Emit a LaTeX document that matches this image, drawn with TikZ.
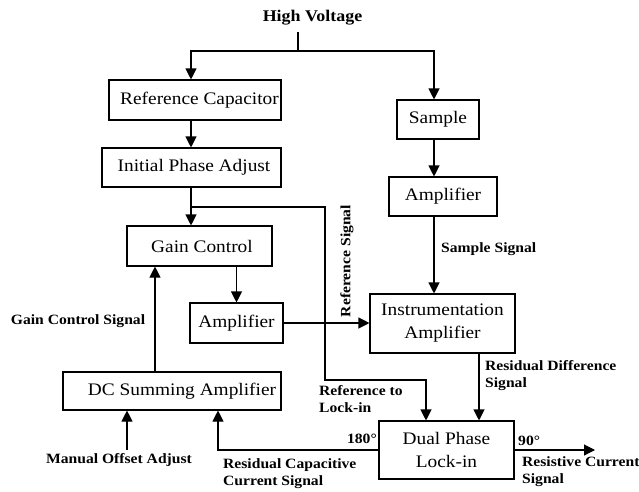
\documentclass[tikz,border=0pt]{standalone}
\usepackage{fontspec}
\setmainfont{Liberation Serif}[FakeStretch=1.1]
\usetikzlibrary{arrows.meta}
\begin{document}
\begin{tikzpicture}[x=1pt,y=-1pt,
  box/.style={draw, line width=1.1pt, inner sep=0pt, font=\fontsize{17.6}{23}\selectfont, align=center},
  lbl/.style={inner sep=0pt, font=\fontsize{14.2}{17}\selectfont\bfseries, align=left},
  wire/.style={line width=1.1pt},
  arr/.style={wire, -{Triangle[length=11pt,width=11pt]}}]
\useasboundingbox (0,0) rectangle (639,491);
% boxes
\node[box, minimum width=172pt, minimum height=40pt] (refcap) at (195,100) {\hspace*{9pt}Reference Capacitor};
\node[box, minimum width=179pt, minimum height=39pt] (ipa) at (191.5,167.5) {\hspace*{5pt}Initial Phase Adjust};
\node[box, minimum width=145pt, minimum height=40pt] (gain) at (199.5,246) {\hspace*{5pt}Gain Control};
\node[box, minimum width=93pt, minimum height=40pt] (amp1) at (236.5,323) {Amplifier};
\node[box, minimum width=218pt, minimum height=38pt] (dcsum) at (172,391) {\hspace*{20pt}DC Summing Amplifier};
\node[box, minimum width=82pt, minimum height=39pt] (sample) at (438,119.5) {Sample};
\node[box, minimum width=108pt, minimum height=39pt] (amp2) at (443,196.5) {Amplifier};
\node[box, minimum width=145pt, minimum height=59pt] (instr) at (442.5,323.5) {Instrumentation\\Amplifier};
\node[box, minimum width=135pt, minimum height=58pt] (dual) at (446.5,450) {Dual Phase\\Lock-in};
% labels
\node[lbl, font=\fontsize{16.3}{19}\selectfont\bfseries] (hv) at (312.5,18) {High Voltage};
\node[lbl] (gcs) at (78,321) {Gain Control Signal};
\node[lbl] (moa) at (119,460) {Manual Offset Adjust};
\node[lbl, anchor=west] (ss) at (441,249) {Sample Signal};
\node[lbl, rotate=90] (rs) at (347,261) {Reference Signal};
\node[lbl, anchor=west] (rtl) at (319,399) {Reference to\\Lock-in};
\node[lbl, anchor=west] (rds) at (485,375.5) {Residual Difference\\Signal};
\node[lbl, anchor=east] (d180) at (377,439) {180°};
\node[lbl, anchor=west] (rccs) at (223,473.5) {Residual Capacitive\\Current Signal};
\node[lbl, anchor=west] (d90) at (518,441) {90°};
\node[lbl, anchor=west] (rcs) at (522,471.5) {Resistive Current\\Signal};
% coordinates
\coordinate (hvs) at (298,32);
\coordinate (hvj) at (298,51);
\coordinate (xl) at (191,0);
\coordinate (xr) at (434,0);
\coordinate (br) at (191,207);
\coordinate (rc) at (325,380);
\coordinate (rd) at (426,0);
\coordinate (xg) at (155,0);
\coordinate (mo) at (127,450);
\coordinate (rcap) at (218,0);
\coordinate (xd) at (479,0);
\coordinate (out) at (595,450);
% connectors
\draw[wire] (hvs) -- (hvj);
\draw[arr] (hvj) -| (refcap.north -| xl);
\draw[arr] (hvj) -| (sample.north -| xr);
\draw[arr] (refcap.south -| xl) -- (ipa.north -| xl);
\draw[arr] (ipa.south -| xl) -- (gain.north -| xl);
\draw[arr] (br) -| (rc) -| (dual.north -| rd);
\draw[arr] (gain.south -| amp1.north) -- (amp1.north);
\draw[arr] (amp1.east) -- (amp1.east -| instr.west);
\draw[arr] (sample.south -| xr) -- (amp2.north -| xr);
\draw[arr] (amp2.south -| xr) -- (instr.north -| xr);
\draw[arr] (dcsum.north -| xg) -- (gain.south -| xg);
\draw[arr] (mo) -- (dcsum.south -| mo);
\draw[arr] (dual.west) -| (dcsum.south -| rcap);
\draw[arr] (instr.south -| xd) -- (dual.north -| xd);
\draw[arr] (dual.east) -- (out);
\end{tikzpicture}
\end{document}
